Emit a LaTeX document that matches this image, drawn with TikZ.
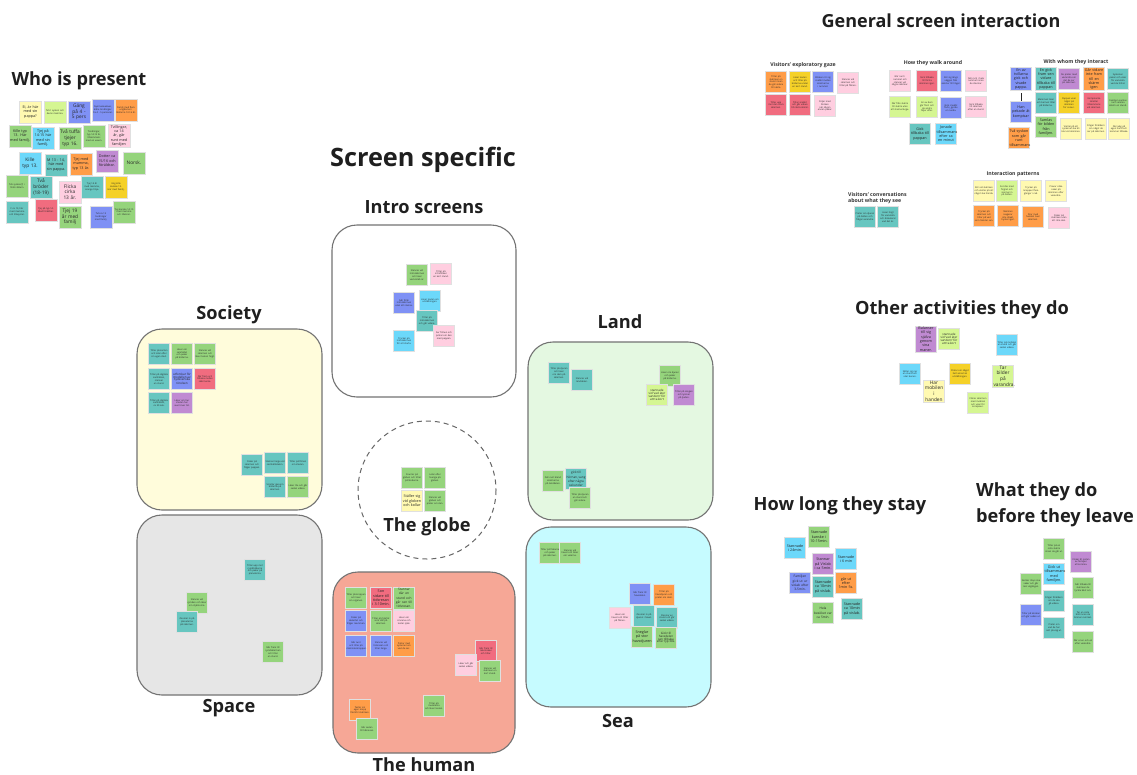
\documentclass[tikz,border=0pt]{standalone}
\usepackage{fontspec}
\setmainfont{Open Sans}
\definecolor{cGreen}{HTML}{95D47C}
\definecolor{cLime}{HTML}{D5F692}
\definecolor{cLYel}{HTML}{FFF9B1}
\definecolor{cYel}{HTML}{F5D128}
\definecolor{cOrange}{HTML}{FF9D48}
\definecolor{cBlue}{HTML}{7F91F5}
\definecolor{cCyan}{HTML}{6CD8FA}
\definecolor{cTeal}{HTML}{67C6C0}
\definecolor{cRed}{HTML}{F16C7F}
\definecolor{cPink}{HTML}{FFCEE0}
\definecolor{cPurple}{HTML}{C08AD2}
\definecolor{fSoc}{HTML}{FFFCDB}
\definecolor{fSpace}{HTML}{E6E6E6}
\definecolor{fLand}{HTML}{E4F8E1}
\definecolor{fSea}{HTML}{C6FBFF}
\definecolor{fHuman}{HTML}{F6A796}
\newcommand{\nohyph}{\hyphenpenalty=10000\exhyphenpenalty=10000\relax}
\tikzset{
  note/.style={minimum width=21pt, minimum height=21pt, inner sep=0.8pt,
    text width=19pt, align=center, draw=black!12, line width=0.4pt,
    text=black!85, font=\nohyph\fontsize{2.3}{2.8}\selectfont},
  wide/.style={minimum width=22pt, minimum height=22pt, text width=20pt},
  big/.style={font=\nohyph\fontsize{4.8}{5.7}\selectfont},
  mid/.style={font=\nohyph\fontsize{3.7}{4.4}\selectfont},
  ngreen/.style={fill=cGreen}, nlime/.style={fill=cLime},
  nlyel/.style={fill=cLYel}, nyel/.style={fill=cYel},
  norange/.style={fill=cOrange}, nblue/.style={fill=cBlue},
  ncyan/.style={fill=cCyan}, nteal/.style={fill=cTeal},
  nred/.style={fill=cRed}, npink/.style={fill=cPink},
  npurple/.style={fill=cPurple},
  region/.style={draw=black!55, line width=1.1pt, rounded corners=25pt},
  head/.style={font=\bfseries\fontsize{18.2}{21}\selectfont, text=black!88, inner sep=0pt},
  sub/.style={font=\bfseries\fontsize{5.2}{6.4}\selectfont, text=black!80, inner sep=0pt},
}
\begin{document}
\begin{tikzpicture}[x=1pt,y=-1pt]
\fill[white] (0,0) rectangle (1137,774);
\useasboundingbox (0,0) rectangle (1137,774);

% ---------------- Who is present ----------------
\node[head] (tWho) at (79,81) {Who is present};
\node[note,wide,nlyel,mid] (wp1) at (30.5,112) {Ei, är här med sin pappa?};
\node[note,wide,nlime] (wp2) at (55,112) {Två t syskon och deras mamma.};
\node[note,wide,nblue,big] (wp3) at (79,112) {Gäng på 4 - 5 pers};
\node[note,wide,nblue] (wp4) at (103,110) {Gymnasieelever, äldre tonåringar. Ca 4 - 5 personer.};
\node[note,wide,norange] (wp5) at (126,110) {Familj med flera ungdomar i åldrarna 13-16 år.};
\node[note,wide,ngreen,mid] (wp6) at (20,136) {Kille typ 13. Här med familj.};
\node[note,wide,ncyan,mid] (wp7) at (43,138) {Tjej på 14-15 här med sin familj.};
\node[note,wide,ngreen,big] (wp8) at (70,138) {Två tuffa tjejer typ 16.};
\node[note,wide,ngreen] (wp9) at (94,136) {Tonåringar, typ 14-15 år, tillsammans med en vuxen.};
\node[note,wide,npink,mid] (wp10) at (119,136) {Tvillingar, ca 14 år, går runt med familjen};
\node[note,wide,ncyan,big] (wp11) at (30,163) {Kille typ 13.};
\node[note,wide,nteal,mid] (wp12) at (56,165) {M 13 - 14, här med sin pappa.};
\node[note,wide,norange,mid] (wp13) at (81,164) {Tjej med mamma, typ 13 år.};
\node[note,wide,npurple,mid] (wp14) at (107,161) {Dotter ca 15/16 och föräldrar.};
\node[note,wide,ngreen,big] (wp15) at (134,163) {Norsk.};
\node[note,wide,ngreen] (wp16) at (17,186) {Två syskon(?) i 13års åldern.};
\node[note,wide,nteal,big] (wp17) at (41,187) {Två bröder (18-19)};
\node[note,wide,npink,big] (wp18) at (70,192) {Flicka cirka 13 år.};
\node[note,wide,nteal] (wp19) at (92,187) {Tjej 14 år med mamma, orange tröja.};
\node[note,wide,nyel] (wp20) at (116,187) {Ung kille kanske 13. Här med familj.};
\node[note,wide,nteal] (wp21) at (17,212) {F ca 13, här med mamma och lillasyster.};
\node[note,wide,nred] (wp22) at (46,210) {Tjej på typ 14. Med föräldrar.};
\node[note,wide,ngreen,big] (wp23) at (70,217) {Tjej 19 år med familj};
\node[note,wide,nblue] (wp24) at (101,217) {Två ca 15 tonåringar med familj.};
\node[note,wide,ngreen] (wp25) at (124,212) {Tjej kanske 14-15 med mamma och lillebror.};

% ---------------- General screen interaction ----------------
\node[font=\bfseries\fontsize{18}{21}\selectfont, text=black!88, inner sep=0pt] (tGen) at (941,21) {General screen interaction};

\node[sub] (tGaze) at (803,65) {Visitors' exploratory gaze};
\node[note,norange] (g1) at (776,82) {Tittar på skärmen en stund innan de går vidare till nästa.};
\node[note,nyel] (g2) at (800,82) {Läser texten och tittar på bilderna under en kort stund.};
\node[note,nblue] (g3) at (823,82) {Blicken rör sig snabbt mellan skärmarna i rummet.};
\node[note,npink] (g4) at (848,83) {Stannar vid skärmen och tittar på filmen.};
\node[note,nred] (g5) at (776,105) {Tittar upp mot den stora skärmen.};
\node[note,nred] (g6) at (800,105) {Tittar snabbt och går vidare till nästa skärm.};
\node[note,npink] (g7) at (825,106) {Följer med blicken när någon annan pekar.};

\node[sub] (tWalk) at (933,63) {How they walk around};
\node[note,npink] (k1) at (900,81) {Går runt i rummet och stannar vid några skärmar.};
\node[note,nred] (k2) at (927,81) {Gick tillbaka till första skärmen igen.};
\node[note,nblue] (k3) at (951,81) {Rör sig längs väggen från vänster till höger.};
\node[note,npink] (k4) at (976,81) {Går runt i hela rummet innan de stannar.};
\node[note,nlime] (k5) at (900,107) {Går från skärm till skärm utan att stanna länge.};
\node[note,nlime] (k6) at (927,107) {En av dem går först och de andra följer efter.};
\node[note,nblue] (k7) at (951,108) {Gick snabbt förbi, gjorde en runda.};
\node[note,npink] (k8) at (976,107) {Gick tillbaka till skärmen efter en stund.};
\node[note,nteal,mid] (k9) at (920,134) {Gick tillbaka till pappan};
\node[note,ncyan,mid] (k10) at (946,134) {Jonade tillsammans efter ca en minut};

\node[sub] (tWhom) at (1076,62) {With whom they interact};
\node[note,nblue,mid] (m1) at (1021,79) {En av tvillarna gick och visade pappa.};
\node[note,nteal,mid] (m2) at (1046,79) {En gick fram sen vidare tillbaka till pappan};
\node[note,npurple] (m3) at (1069,79) {De pratar med varandra om det de ser på skärmen.};
\node[note,norange,mid] (m4) at (1094,79) {Går vidare inte fram till en skärm igen};
\node[note,nteal] (m5) at (1118,79) {Syskonen pekar och visar för varandra vad de hittat.};
\node[note,nteal] (m6) at (1046,103) {Mamman läser och barnen tittar på bilderna.};
\node[note,nyel] (m7) at (1069,103) {Pappan visar något på skärmen för sonen.};
\node[note,nred] (m8) at (1094,103) {Kompisarna skrattar tillsammans vid skärmen.};
\node[note,ngreen] (m9) at (1118,103) {Familjen samlas runt samma skärm en stund.};
\coordinate (bar1) at (1021,93);
\coordinate (bar2) at (1021,102);
\draw[line width=0.9pt, black!85] (bar1) -- (bar2);
\node[note,nblue,mid] (m10) at (1021,112) {Han pekade åt kompisar};
\node[note,ngreen,mid] (m11) at (1046,127) {Samlas för bilden från familjen.};
\node[note,nlyel] (m12) at (1071,129) {Väntar på att syskonet ska bli klar vid skärmen.};
\node[note,nlyel] (m13) at (1096,129) {Frågar föräldern om något de ser på skärmen.};
\node[note,nlyel] (m14) at (1119,129) {Går iväg på egen hand och kommer tillbaka.};
\node[note,norange,mid] (m15) at (1019,138) {Två syskon som går runt tillsammans};

\node[sub] (tPat) at (1013,174) {Interaction patterns};
\node[note,nlyel] (p1) at (984,191) {Rör vid skärmen och väntar på att något ska hända.};
\node[note,nlime] (p2) at (1007,191) {Scrollar med fingret och zoomar in på bilden.};
\node[note,nlyel] (p3) at (1031,191) {Trycker på knappen flera gånger i rad.};
\node[note,nlyel] (p4) at (1056,191) {Provar olika saker på skärmen efter varandra.};
\node[note,norange] (p5) at (984,216) {Trycker på skärmen och tittar på vad som händer sen.};
\node[note,norange] (p6) at (1008,216) {Skärmen reagerar inte direkt, trycker igen.};
\node[note,norange] (p7) at (1033,217) {Drar med handen över skärmen.};
\node[note,npink] (p8) at (1059,218) {Pekar på skärmen utan att röra den.};

\node[sub, anchor=west, align=left] (tConv) at (848,198) {Visitors' conversations\\about what they see};
\node[note,nteal] (c1) at (865,217) {Pratar om djuren på bilden och frågar varandra.};
\node[note,nteal] (c2) at (888,217) {Läser högt för varandra och diskuterar vad det är.};

% ---------------- Other activities ----------------
\node[head] (tOther) at (962,310) {Other activities they do};
\node[note,npurple,mid] (o1) at (926,339) {Balanser till sig själva genom sina maner.};
\node[note,nlime] (o2) at (949,339) {\fontsize{3}{3.6}\selectfont stannade vid 'vad äter vandern' för att ta kort};
\node[note,ncyan] (o3) at (1007,345) {Tittar på mobilen en stund och går sedan vidare.};
\node[note,ncyan] (o4) at (910,374) {Sätter sig ner en stund och vilar benen.};
\node[note,nyel] (o5) at (960,374) {Pratar om något helt annat än utställningen.};
\node[note,nlime,big] (o6) at (1003,376) {Tar bilder på varandra.};
\node[note,nlyel,big] (o7) at (934,391) {Har mobilen i handen};
\node[note,nlime] (o8) at (978,403) {Filmar skärmen med mobilen och visar för kompisen.};

% ---------------- How long they stay ----------------
\node[head] (tLong) at (840,506) {How long they stay};
\node[note,ncyan,mid] (h1) at (795,548) {Stannade i 24min.};
\node[note,ngreen,mid] (h2) at (819,537) {Stannade kanske i 10-15min.};
\node[note,npurple,mid] (h3) at (823,564) {Stannar på Vislab i ca 5min.};
\node[note,ncyan,mid] (h4) at (846,559) {Stannade i 6 min};
\node[note,nblue,mid] (h5) at (800,583) {\fontsize{3.2}{3.9}\selectfont Familjen gick ut ur vislab efter 3-5min.};
\node[note,nteal,mid] (h6) at (823,587) {Stannade ca 10min på vislab.};
\node[note,norange,mid] (h7) at (846,583) {går ut efter 1min 5s.};
\node[note,ngreen,mid] (h8) at (823,613) {\fontsize{3.2}{3.9}\selectfont Hela besöket var ca 5min.};
\node[note,nteal,mid] (h9) at (852,609) {Stannade ca 10min på vislab.};

% ---------------- What they do before they leave ----------------
\node[head, anchor=west, align=left, font=\bfseries\fontsize{18.2}{26}\selectfont] (tLeave) at (976,505) {What they do\\before they leave};
\node[note,ngreen] (l1) at (1054,549) {Tittar på en sista skärm innan de går ut.};
\node[note,npurple] (l2) at (1081,562) {Vinkar åt resten av familjen att komma.};
\node[note,ncyan,mid] (l3) at (1054,574) {Gick ut tillsammans med familjen.};
\node[note,ngreen] (l4) at (1031,584) {Samlar ihop sina saker och går mot utgången.};
\node[note,ngreen] (l5) at (1083,588) {Går tillbaka till skärmen de tyckte bäst om.};
\node[note,nteal] (l6) at (1054,601) {Frågar föräldern om de ska gå vidare.};
\node[note,nblue] (l7) at (1031,615) {Tittar på klockan och går sedan ut.};
\node[note,nteal] (l8) at (1083,615) {Tar en sista bild innan de lämnar rummet.};
\node[note,nteal] (l9) at (1054,628) {Pratar om vad de har sett på väg ut.};
\node[note,ngreen] (l10) at (1083,642) {Går ut en och en efter varandra.};

% ---------------- Screen specific ----------------
\node[font=\bfseries\fontsize{25.3}{30}\selectfont, text=black!88, inner sep=0pt] (tScreen) at (423,160) {Screen specific};

% Society
\draw[region, fill=fSoc] (137,329) rectangle (322,510);
\node[head] (tSoc) at (229,315) {Society};
\node[note,nteal] (s1) at (159,354) {Tittar på kartan och letar efter sin egen stad.};
\node[note,ngreen] (s2) at (182,354) {Läser om samhället och pekar på bilderna.};
\node[note,ngreen] (s3) at (205,354) {Stannar vid skärmen och läser texten högt.};
\node[note,nteal] (s4) at (159,379) {Tittar på digitala samhällen, stannar en stund.};
\node[note,nblue] (s5) at (182,379) {\fontsize{3}{3.6}\selectfont utforskar för modellen av Sydsvenska rörelsen};
\node[note,nred] (s6) at (205,379) {Går fram och tillbaka mellan skärmarna.};
\node[note,nteal] (s7) at (159,403) {Tittar på digitala samhällen, ca 30 sek.};
\node[note,npurple] (s8) at (182,403) {Läser om hur staden har vuxit över tid.};
\node[note,nteal] (s9) at (252,465) {Pekar på skärmen och frågar pappan.};
\node[note,nteal] (s10) at (275,463) {Stannar länge vid samhällsdelen.};
\node[note,nteal] (s11) at (298,463) {Tittar på filmen om staden.};
\node[note,nteal] (s12) at (275,487) {Scrollar igenom bilderna på skärmen.};
\node[note,ngreen] (s13) at (298,487) {Läser lite och går sedan vidare.};

% Space
\draw[region, fill=fSpace] (137,515) rectangle (322,695);
\node[head] (tSpace) at (229,708) {Space};
\node[note,nteal] (sp1) at (255,570) {Tittar upp mot rymdbilderna och pekar på planeterna.};
\node[note,ngreen] (sp2) at (197,603) {Stannar vid rymden och läser om stjärnorna.};
\node[note,nteal] (sp3) at (187,622) {Zoomar in på planeterna på skärmen.};
\node[note,ngreen] (sp4) at (273,652) {Går fram till rymdskärmen och tittar en stund.};

% Intro screens
\draw[region, fill=white] (332,225) rectangle (516,397);
\node[head] (tIntro) at (424,207) {Intro screens};
\node[note,ngreen] (i1) at (417,275) {Stannar vid introskärmen och läser vad vislab är.};
\node[note,npink] (i2) at (441,274) {Tittar på introfilmen en kort stund.};
\node[note,nblue] (i3) at (404,303) {Går förbi introskärmen utan att stanna.};
\node[note,ncyan] (i4) at (430,301) {Läser texten om utställningen.};
\node[note,nteal] (i5) at (427,321) {Tittar på introskärmen och går vidare.};
\node[note,ncyan] (i6) at (404,341) {Trycker på introskärmen för att starta.};
\node[note,npink] (i7) at (444,336) {Ser filmen och pratar om den med pappan.};

% Land
\draw[region, fill=fLand] (528,342) rectangle (713,520);
\node[head] (tLand) at (620,322) {Land};
\node[note,nteal] (la1) at (559,373) {Tittar på djuren och läser om dem på skärmen.};
\node[note,nteal] (la2) at (582,380) {Stannar vid landdelen.};
\node[note,ngreen] (la3) at (670,376) {Läser om djuren och pekar på bilderna.};
\node[note,nlime] (la4) at (657,395) {\fontsize{3}{3.6}\selectfont stannade vid 'vad äter vandern' för att ta kort};
\node[note,npurple] (la5) at (684,395) {Tittar på skogen och lyssnar på ljuden.};
\node[note,ngreen] (la6) at (553,481) {Går runt bland skärmarna på landdelen.};
\node[note,nteal] (la7) at (576,479) {\fontsize{3.1}{3.7}\selectfont gick till hörnan, sang efter några sekunder};
\node[note,ngreen] (la8) at (580,498) {Tittar på djuren en stund och går vidare.};

% The globe
\draw[dashed, dash pattern=on 5pt off 4pt, draw=black!60, line width=1pt] (427,490) circle [radius=69];
\node[note,ngreen] (gl1) at (412,478) {Snurrar på globen och tittar på länderna.};
\node[note,ngreen] (gl2) at (435,478) {Letar efter Sverige på globen.};
\node[note,nlyel,mid] (gl3) at (412,501) {Ställer sig vid globen och kollar};
\node[note,ngreen] (gl4) at (435,501) {Stannar vid globen och pratar om den.};
\node[head] (tGlobe) at (427,527) {The globe};

% The human
\draw[region, fill=fHuman] (333,572) rectangle (515,753);
\node[head] (tHuman) at (424,765) {The human};
\node[note,ngreen] (hu1) at (356,598) {Tittar på kroppen och läser om organen.};
\node[note,nred,mid] (hu2) at (381,598) {Son sidare till tidsresan i 3-10min.};
\node[note,ngreen,mid] (hu3) at (404,598) {\fontsize{3.2}{3.9}\selectfont Stannar där en stund och går sen till tidsresan.};
\node[note,nblue] (hu4) at (356,621) {Pekar på skelettet och frågar mamman.};
\node[note,ngreen] (hu5) at (381,621) {Tittar på hjärtat som slår på skärmen.};
\node[note,npink] (hu6) at (404,621) {Läser om sinnena och testar själv.};
\node[note,nblue] (hu7) at (356,646) {Går runt och tittar på människokroppen.};
\node[note,nblue] (hu8) at (381,646) {Stannar vid tidsresan och tittar länge.};
\node[note,norange] (hu9) at (404,646) {Pratar med syskonet om vad de ser.};
\node[note,nred] (hu10) at (486,651) {Går fram till människan och tittar.};
\node[note,npink] (hu11) at (466,665) {Läser och går sedan vidare.};
\node[note,ngreen] (hu12) at (490,671) {Stannar vid skärmen en kort stund.};
\node[note,ngreen] (hu13) at (434,706) {Tittar på musklerna och läser texten.};
\node[note,norange] (hu14) at (360,710) {Testar sin egen kropp framför skärmen.};
\node[note,ngreen] (hu15) at (367,729) {Går sedan till tidsresan.};

% Sea
\draw[region, fill=fSea] (526,527) rectangle (711,707);
\node[head] (tSea) at (618,721) {Sea};
\node[note,ngreen] (se1) at (550,553) {Tittar på fiskarna och pekar på skärmen.};
\node[note,ngreen] (se2) at (570,553) {Stannar vid havet och läser om valarna.};
\node[note,nblue] (se3) at (640,594) {Går fram till havsdelen.};
\node[note,norange] (se4) at (664,595) {Tittar på havsdjuren och pratar om dem.};
\node[note,npink] (se5) at (620,618) {Läser om havet och tittar på filmen.};
\node[note,nteal] (se6) at (644,616) {Zoomar in på djuren i havet.};
\node[note,nteal] (se7) at (667,618) {Stannar en stund och går sedan vidare.};
\node[note,ngreen,mid] (se8) at (642,637) {Sneglar på stor havsdjuren};
\node[note,ngreen] (se9) at (666,638) {\fontsize{3}{3.6}\selectfont Gick till havsdelen sen tillbaka efter typ 30s.};
\end{tikzpicture}
\end{document}
